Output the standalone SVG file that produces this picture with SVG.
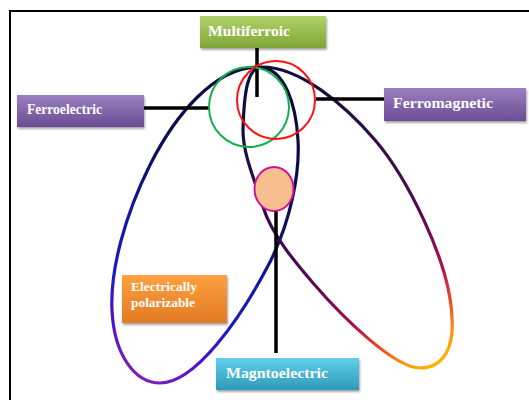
<svg xmlns="http://www.w3.org/2000/svg" width="529" height="400" viewBox="0 0 529 400">
<defs>
<linearGradient id="gGreen" x1="0" y1="0" x2="0" y2="1"><stop offset="0" stop-color="#b0d46a"/><stop offset="1" stop-color="#7fa436"/></linearGradient>
<linearGradient id="gPurple" x1="0" y1="0" x2="0" y2="1"><stop offset="0" stop-color="#9a80c0"/><stop offset="1" stop-color="#6a4c94"/></linearGradient>
<linearGradient id="gCyan" x1="0" y1="0" x2="0" y2="1"><stop offset="0" stop-color="#5fd0ea"/><stop offset="1" stop-color="#2f9ab8"/></linearGradient>
<linearGradient id="gOrange" x1="0" y1="0" x2="0" y2="1"><stop offset="0" stop-color="#ffa040"/><stop offset="1" stop-color="#e07a24"/></linearGradient>
<linearGradient id="gLeft" gradientUnits="userSpaceOnUse" x1="280" y1="100" x2="140" y2="385">
<stop offset="0" stop-color="#0a0a3a"/><stop offset="0.3" stop-color="#0d0d55"/><stop offset="0.55" stop-color="#1616a8"/><stop offset="0.7" stop-color="#1a1ac4"/><stop offset="0.85" stop-color="#4a10d0"/><stop offset="1" stop-color="#8424b4"/>
</linearGradient>
<linearGradient id="gRight" gradientUnits="userSpaceOnUse" x1="260" y1="100" x2="440" y2="370">
<stop offset="0" stop-color="#0e0e40"/><stop offset="0.5" stop-color="#4a0a50"/><stop offset="0.62" stop-color="#700a50"/><stop offset="0.74" stop-color="#b0104a"/><stop offset="0.85" stop-color="#f05020"/><stop offset="0.92" stop-color="#ff9010"/><stop offset="1" stop-color="#ffc000"/>
</linearGradient>
<filter id="sh" x="-10%" y="-20%" width="130%" height="160%"><feDropShadow dx="1" dy="2" stdDeviation="1.2" flood-color="#000" flood-opacity="0.35"/></filter>
</defs>
<style>
.lbl{font-family:"Liberation Serif","Times New Roman",serif;font-weight:bold;fill:#fff;font-size:15px}
.sm{font-size:12.5px}
.conn{stroke:#000;stroke-width:3.5;fill:none}
.loop{fill:none;stroke-width:3.2}
</style>
<rect x="10" y="11" width="540" height="420" fill="#fff" stroke="#000" stroke-width="2"/>
<g id="loops">
<path class="loop" stroke="url(#gLeft)" d="M 258,67 C 215,67 175,115 150,165 C 125,215 110,270 112,310 C 114,355 135,383 160,383 C 195,383 240,320 270,262 C 290,222 300,175 298,140 C 296,105 285,67 258,67 Z"/>
<path class="loop" stroke="url(#gRight)" d="M 262,67 C 300,67 345,105 375,140 C 405,175 450,260 452,318 C 454,345 445,368 420,368 C 395,368 345,320 313,283 C 295,262 272,235 263,207 C 255,180 243,155 243,130 C 244,90 248,67 262,67 Z"/>
</g>
<g id="connectors">
<line class="conn" x1="257" y1="48" x2="257" y2="97"/>
<line class="conn" x1="144" y1="108" x2="210" y2="108"/>
<line class="conn" x1="316" y1="99" x2="384" y2="99"/>
<line class="conn" x1="276" y1="211" x2="276" y2="353"/>
</g>
<g id="circles">
<circle cx="249" cy="107" r="40" fill="none" stroke="#12b04a" stroke-width="2"/>
<circle cx="276" cy="100" r="39" fill="none" stroke="#ff1010" stroke-width="2"/>
<ellipse cx="274" cy="189" rx="19.5" ry="22" fill="#f8bf8e" stroke="#d0109a" stroke-width="2"/>
</g>
<g id="multiferroic">
<rect x="200" y="16" width="126" height="32" fill="url(#gGreen)" filter="url(#sh)"/>
<text class="lbl" x="208" y="36" textLength="82" lengthAdjust="spacingAndGlyphs">Multiferroic</text>
</g>
<g id="ferroelectric">
<rect x="17" y="95" width="127" height="32" fill="url(#gPurple)" filter="url(#sh)"/>
<text class="lbl" x="27" y="114" textLength="75" lengthAdjust="spacingAndGlyphs">Ferroelectric</text>
</g>
<g id="ferromagnetic">
<rect x="384" y="88" width="142" height="33" fill="url(#gPurple)" filter="url(#sh)"/>
<text class="lbl" x="393" y="108" textLength="100" lengthAdjust="spacingAndGlyphs">Ferromagnetic</text>
</g>
<g id="electrically-polarizable">
<rect x="122" y="275" width="105" height="48" fill="url(#gOrange)" filter="url(#sh)"/>
<text class="lbl sm" x="131" y="291" textLength="66" lengthAdjust="spacingAndGlyphs">Electrically</text>
<text class="lbl sm" x="131" y="307" textLength="64" lengthAdjust="spacingAndGlyphs">polarizable</text>
</g>
<g id="magntoelectric">
<rect x="216" y="358" width="143" height="32" fill="url(#gCyan)" filter="url(#sh)"/>
<text class="lbl" x="226" y="378" textLength="102" lengthAdjust="spacingAndGlyphs">Magntoelectric</text>
</g>
</svg>
